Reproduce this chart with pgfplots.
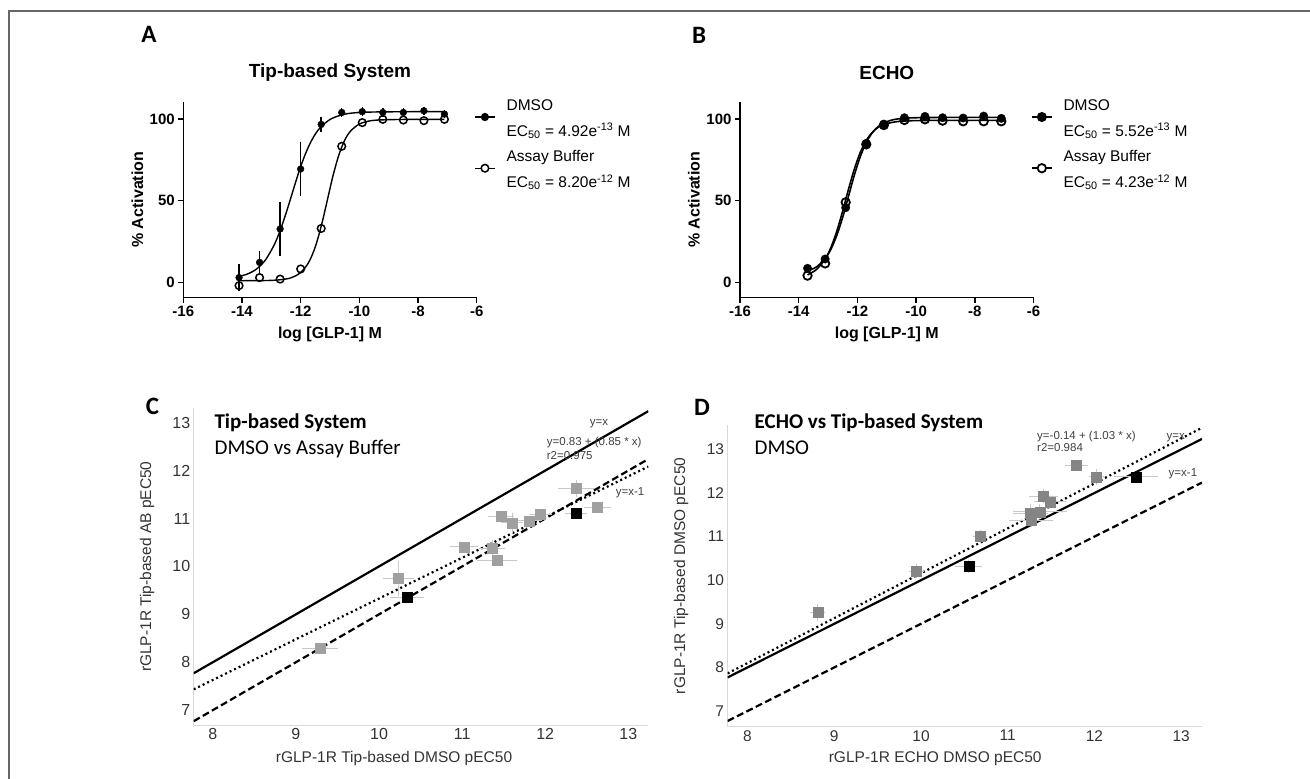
\documentclass[border=0pt]{standalone}
\usepackage{fontspec}
\setmainfont{Liberation Sans}
\newfontfamily\carlito{Carlito}
\usepackage{pgfplots}
\pgfplotsset{compat=1.18}
\definecolor{cgrayC}{HTML}{A0A0A0}
\definecolor{cgrayD}{HTML}{858585}
\definecolor{errgray}{HTML}{C8C8C8}
\definecolor{axgray}{HTML}{D9D9D9}
\definecolor{tickgray}{HTML}{333333}
\definecolor{framegray}{HTML}{666666}
\definecolor{annot}{HTML}{404040}

\pgfplotsset{
 prism/.style={
   scale only axis, axis lines*=left,
   axis line style={line width=1.4pt, -},
   tick style={line width=1.4pt, black}, tick align=outside, major tick length=5pt,
   xmin=-16, xmax=-6, ymin=-9.4, ymax=110.6, height=196pt,
   xtick={-16,-14,-12,-10,-8,-6}, xticklabels={-16,-14,-12,-10,-8,-6},
   ytick={0,50,100}, yticklabels={0,50,100},
   ticklabel style={font=\fontsize{15}{18}\selectfont\bfseries},
   xlabel={log [GLP-1] M}, ylabel={\% Activation},
   every axis x label/.style={at={([yshift=-37pt]axis description cs:0.5,0)}, anchor=center,
      font=\fontsize{16}{19}\selectfont\bfseries},
   every axis y label/.style={at={([xshift=-46pt]axis description cs:0,0.5)}, rotate=90, anchor=center,
      font=\fontsize{16}{19}\selectfont\bfseries},
   every axis title/.style={at={([yshift=28.7pt]axis description cs:0.5,1)}, anchor=center,
      font=\fontsize{19}{22}\selectfont\bfseries},
   legend style={draw=none, fill=none, inner sep=0pt, outer sep=0pt,
     nodes={inner sep=0pt, text height=12pt, text depth=4pt}, row sep=9.6pt, column sep=11.7pt,
     font=\fontsize{15.5}{18}\selectfont,
     at={(axis description cs:0.994,1.0163)}, anchor=north west},
   legend cell align=left,
   legend image code/.code={%
      \pgfpathrectangle{\pgfpoint{0pt}{-2pt}}{\pgfpoint{20pt}{4pt}}\pgfusepath{use as bounding box}%
      \begin{scope}[overlay, yshift=-10.5pt]
      \draw[mark repeat=2, mark phase=2, ##1] plot coordinates {(0pt,0pt) (10pt,0pt) (20pt,0pt)};
      \end{scope}},
 },
 corr/.style={
   scale only axis, axis lines*=left,
   axis line style={draw=axgray, line width=1pt, -},
   major tick length=0pt, tick style={draw=none},
   xmin=7.77, xmax=13.24, xtick={8,9,10,11,12,13}, ytick={7,8,9,10,11,12,13},
   /pgf/number format/assume math mode=true,
   ticklabel style={color=tickgray},
   every axis y label/.style={at={([xshift=-46.5pt]axis description cs:0,0.5)}, rotate=90, anchor=center,
      font=\fontsize{15.5}{18}\selectfont, color=tickgray},
 },
 eb/.style={error bars/.cd, x dir=both, x explicit, y dir=both, y explicit,
   error bar style={line width=0.9pt, color=errgray},
   error mark options={mark size=3pt, line width=0.9pt, color=errgray}},
}

\begin{document}
\begin{tikzpicture}
\path[use as bounding box] (0pt,0pt) rectangle (1310pt,-779pt);
\draw[color=framegray, line width=1.5pt] (9pt,-779pt) -- (9pt,-11pt) -- (1310pt,-11pt);

% ---------------- A ----------------
\begin{axis}[prism, at={(183.3pt,-297.7pt)}, anchor=south west, width=293.4pt,
  title={Tip-based System}]
\addplot[black, line width=1.4pt, smooth, forget plot] coordinates {
 (-14.1,3.6) (-13.8,5.2) (-13.5,8.2) (-13.2,13.7) (-12.9,23.0) (-12.7,31.7) (-12.5,42.2)
 (-12.3,53.8) (-12.1,65.4) (-11.9,75.8) (-11.7,84.3) (-11.5,90.8) (-11.3,95.4) (-11.0,99.7)
 (-10.7,102.0) (-10.4,103.3) (-10.0,104.0) (-9.5,104.3) (-9.0,104.4) (-8.0,104.5) (-7.1,104.5)};
\addplot[black, line width=1.4pt, smooth, forget plot] coordinates {
 (-14.1,1.0) (-13.4,1.06) (-13.0,1.2) (-12.8,1.4) (-12.4,2.4) (-12.1,4.7) (-11.9,7.8) (-11.7,13.1)
 (-11.5,21.8) (-11.3,34.3) (-11.1,49.6) (-10.9,65.1) (-10.7,77.9) (-10.5,87.0) (-10.3,92.6)
 (-10.0,96.9) (-9.6,99.0) (-9.0,99.6) (-8.0,99.8) (-7.1,99.8)};
\addplot[only marks, black, mark=*, mark size=3.4pt, forget plot,
  error bars/.cd, y dir=both, y explicit,
  error bar style={line width=1.4pt, black},
  error mark options={mark size=3.5pt, line width=1.4pt, black}] coordinates {
 (-14.1,2.9) +- (0,6.3) (-13.4,12.2) +- (0,5.1) (-12.7,32.7) +- (0,14.5) (-12.0,69.4) +- (0,14.5)
 (-11.3,96.7) +- (0,2.6) (-10.6,104) +- (0,0.5) (-9.9,104.5) +- (0,0.5) (-9.2,104) +- (0,0.5)
 (-8.5,104) +- (0,0.5) (-7.8,105) +- (0,0.5) (-7.1,103) +- (0,0.5)};
\addplot[only marks, black, mark=o, mark size=3.8pt, forget plot,
  mark options={line width=1.5pt, fill=white}] coordinates {
 (-14.1,-2) (-13.4,2.9) (-12.7,2) (-12.0,8.2) (-11.3,33) (-10.6,83.3)
 (-9.9,97.8) (-9.2,99.8) (-8.5,99.4) (-7.8,99) (-7.1,99.8)};
\addlegendimage{black, line width=1.4pt, mark=*, mark size=3.4pt}
\addlegendentry{DMSO}
\addlegendimage{empty legend}
\addlegendentry{EC\textsubscript{50} = 4.92e\textsuperscript{-13} M}
\addlegendimage{black, line width=1.4pt, mark=*, mark size=3.8pt, mark options={line width=1.5pt, fill=white}}
\addlegendentry{Assay Buffer}
\addlegendimage{empty legend}
\addlegendentry{EC\textsubscript{50} = 8.20e\textsuperscript{-12} M}
\end{axis}

% ---------------- B ----------------
\begin{axis}[prism, at={(740pt,-297.7pt)}, anchor=south west, width=293.6pt,
  title={ECHO}]
\addplot[black, line width=1.6pt, smooth, forget plot] coordinates {
 (-13.7,7.0) (-13.4,9.4) (-13.1,14.5) (-12.9,20.4) (-12.7,28.9) (-12.5,40.0) (-12.3,53.0)
 (-12.1,66.0) (-11.9,77.1) (-11.7,85.6) (-11.5,91.5) (-11.3,95.3) (-11.1,97.6) (-10.8,99.5)
 (-10.4,100.5) (-9.7,100.9) (-8.5,101) (-7.1,101)};
\addplot[black, line width=1.6pt, smooth, forget plot] coordinates {
 (-13.7,4.6) (-13.4,7.8) (-13.1,14.3) (-12.9,21.5) (-12.7,31.5) (-12.5,43.9) (-12.3,57.3)
 (-12.1,69.7) (-11.9,79.7) (-11.7,86.9) (-11.5,91.7) (-11.3,94.8) (-11.1,96.6) (-10.8,98.0)
 (-10.4,98.8) (-9.7,99.1) (-8.5,99.2) (-7.1,99.2)};
\addplot[only marks, black, mark=*, mark size=4.2pt, forget plot] coordinates {
 (-13.7,8.6) (-13.1,14.3) (-12.4,45.7) (-11.7,85.1) (-11.1,96.9) (-10.4,100.8)
 (-9.7,101.6) (-9.1,100.8) (-8.4,100.6) (-7.7,101.8) (-7.1,100.4)};
\addplot[only marks, black, mark=o, mark size=4.2pt, forget plot,
  mark options={line width=1.8pt, fill=white}] coordinates {
 (-13.7,4.1) (-13.1,11.6) (-12.4,49) (-11.7,84.5) (-11.1,96.3) (-10.4,99.4)
 (-9.7,99.8) (-9.1,99) (-8.4,98.6) (-7.7,98.6) (-7.1,98.6)};
\addlegendimage{black, line width=1.6pt, mark=*, mark size=4.2pt}
\addlegendentry{DMSO}
\addlegendimage{empty legend}
\addlegendentry{EC\textsubscript{50} = 5.52e\textsuperscript{-13} M}
\addlegendimage{black, line width=1.6pt, mark=*, mark size=4.2pt, mark options={line width=1.8pt, fill=white}}
\addlegendentry{Assay Buffer}
\addlegendimage{empty legend}
\addlegendentry{EC\textsubscript{50} = 4.23e\textsuperscript{-12} M}
\end{axis}

% ---------------- C ----------------
\begin{axis}[corr, at={(193.7pt,-725pt)}, anchor=south west, width=454.6pt, height=316.7pt,
  ymin=6.69, ymax=13.3,
  ticklabel style={font=\fontsize{16}{19}\selectfont},
  xlabel={rGLP-1R Tip-based DMSO pEC50}, ylabel={rGLP-1R Tip-based AB pEC50},
  every axis x label/.style={at={([yshift=-33.3pt]axis description cs:0.4406,0)}, anchor=center,
    font=\fontsize{15.5}{18}\selectfont, color=tickgray}]
\addplot[black, line width=2.2pt] coordinates {(7.77,7.77) (13.24,13.24)};
\addplot[black, line width=2.2pt, dash pattern=on 2pt off 3pt] coordinates {(7.77,7.4345) (13.24,12.084)};
\addplot[black, line width=2.2pt, dash pattern=on 7pt off 3.5pt] coordinates {(7.77,6.77) (13.24,12.24)};
\addplot[only marks, mark=square*, mark size=5pt, mark options={fill=cgrayC, draw=cgrayC}, eb] coordinates {
 (9.29,8.29) +- (0.18,0.04) (10.23,9.75) +- (0.15,0.3) (11.02,10.41) +- (0.13,0.04)
 (11.36,10.38) +- (0.12,0.1) (11.42,10.13) +- (0.21,0.04) (11.47,11.04) +- (0.12,0.05)
 (11.60,10.91) +- (0.10,0.15) (11.81,10.95) +- (0.12,0.05) (11.94,11.09) +- (0.10,0.05)
 (12.37,11.63) +- (0.18,0.12) (12.63,11.23) +- (0.13,0.05)};
\addplot[only marks, mark=square*, mark size=5pt, mark options={fill=black, draw=black}, eb] coordinates {
 (10.34,9.35) +- (0.17,0.05) (12.37,11.11) +- (0.10,0.05)};
\end{axis}

% ---------------- D ----------------
\begin{axis}[corr, at={(727.6pt,-726.7pt)}, anchor=south west, width=474.4pt, height=301.7pt,
  ymin=6.64, ymax=13.56,
  ticklabel style={font=\fontsize{15.5}{18}\selectfont},
  xlabel={rGLP-1R ECHO DMSO pEC50}, ylabel={rGLP-1R Tip-based DMSO pEC50},
  every axis x label/.style={at={([yshift=-31.6pt]axis description cs:0.4376,0)}, anchor=center,
    font=\fontsize{15.5}{18}\selectfont, color=tickgray}]
\addplot[black, line width=2.2pt] coordinates {(7.77,7.77) (13.24,13.24)};
\addplot[black, line width=2.2pt, dash pattern=on 2pt off 3pt] coordinates {(7.77,7.8631) (13.24,13.4972)};
\addplot[black, line width=2.2pt, dash pattern=on 7pt off 3.5pt] coordinates {(7.77,6.77) (13.24,12.24)};
\addplot[only marks, mark=square*, mark size=5pt, mark options={fill=cgrayD, draw=cgrayD}, eb] coordinates {
 (8.81,9.26) +- (0.05,0.13) (9.95,10.21) +- (0.05,0.1) (10.68,11.01) +- (0.05,0.08)
 (11.26,11.53) +- (0.17,0.15) (11.27,11.38) +- (0.22,0.1) (11.37,11.57) +- (0.28,0.1)
 (11.41,11.93) +- (0.13,0.1) (11.49,11.80) +- (0.15,0.05) (11.79,12.64) +- (0.10,0.05)
 (12.02,12.37) +- (0.05,0.12)};
\addplot[only marks, mark=square*, mark size=5pt, mark options={fill=black, draw=black}, eb] coordinates {
 (10.55,10.32) +- (0.12,0.08) (12.48,12.37) +- (0.22,0.05)};
\end{axis}

% panel letters
\node[font=\carlito\bfseries\fontsize{25}{30}\selectfont] at (149pt,-34.7pt) {A};
\node[font=\carlito\bfseries\fontsize{25}{30}\selectfont] at (699pt,-35.5pt) {B};
\node[font=\carlito\bfseries\fontsize{25}{30}\selectfont] at (152.4pt,-406.5pt) {C};
\node[font=\carlito\bfseries\fontsize{25}{30}\selectfont] at (702pt,-407pt) {D};

% C texts
\node[anchor=base west, inner sep=0pt, font=\carlito\bfseries\fontsize{21}{25}\selectfont] at (214.4pt,-428.5pt) {Tip-based System};
\node[anchor=base west, inner sep=0pt, font=\carlito\fontsize{21}{25}\selectfont] at (214.4pt,-454pt) {DMSO vs Assay Buffer};
\begin{scope}[every node/.style={anchor=base west, inner sep=0pt, text=annot, font=\fontsize{11.5}{13}\selectfont}]
\node at (589.7pt,-425pt) {y=x};
\node at (546.7pt,-445.7pt) {y=0.83 + (0.85 * x)};
\node at (546.7pt,-459pt) {r2=0.975};
\node at (615.6pt,-495.7pt) {y=x-1};
\node at (1037pt,-439pt) {y=-0.14 + (1.03 * x)};
\node at (1037pt,-451.3pt) {r2=0.984};
\node at (1166.5pt,-439pt) {y=x};
\node at (1168.5pt,-476.3pt) {y=x-1};
\end{scope}

% D texts
\node[anchor=base west, inner sep=0pt, font=\carlito\bfseries\fontsize{21}{25}\selectfont] at (754.5pt,-428.5pt) {ECHO vs Tip-based System};
\node[anchor=base west, inner sep=0pt, font=\carlito\fontsize{21}{25}\selectfont] at (754.5pt,-454pt) {DMSO};
\end{tikzpicture}
\end{document}
